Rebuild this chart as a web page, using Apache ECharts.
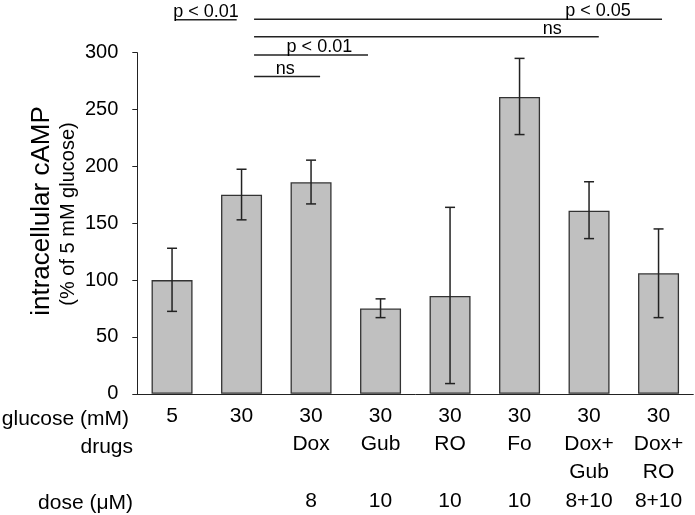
<!DOCTYPE html>
<html><head><meta charset="utf-8">
<script src="https://cdn.jsdelivr.net/npm/echarts@6/dist/echarts.min.js"></script>
<style>html,body{margin:0;padding:0;background:#fff}#c{width:695px;height:515px}</style>
</head><body><div id="c"></div>
<script>
// ---- data ----
const glucose = ['5','30','30','30','30','30','30','30'];
const drugs = ['','','Dox','Gub','RO','Fo','Dox+\nGub','Dox+\nRO'];
const dose = ['','','8','10','10','10','8+10','8+10'];
const means = [100,175,186,75,86,261,161,106];
const errLow = [72.5,153,167,67,9,228,136.5,67];
const errHigh = [128,197.5,205.5,83.5,164,295,186.5,145];
const yTicks = [0,50,100,150,200,250,300];
// significance brackets (positions in category units, heights in axis units)
const bracketFrom = [0.04,1.18,1.18,1.18,1.18];
const bracketTo = [0.93,7.05,6.14,2.82,2.13];
const bracketY = [329,329.5,314,298,279];
const bracketLabelX = [0.49,6.13,5.47,2.12,1.63];
const bracketLabels = ['p < 0.01','p < 0.05','ns','p < 0.01','ns'];
const rowHeaders = ['glucose (mM)','drugs','dose (\u03bcM)'];
const yTitle = 'intracellular cAMP';
const ySub = '(% of 5 mM glucose)';

const FONT = '"Liberation Sans", Arial, sans-serif';
const categories = glucose.map((g,i)=>{
  const d = drugs[i].split('\n');
  return [g, d[0]||'', d[1]||'', dose[i]].join('\n');
});

const chart = echarts.init(document.getElementById('c'));
chart.setOption({
  animation:false,
  backgroundColor:'#fff',
  grid:{left:137.3,right:1.7,top:52.7,bottom:118.3,containLabel:false},
  xAxis:{
    type:'category', data:categories,
    axisLine:{lineStyle:{color:'#222',width:1}},
    axisTick:{alignWithLabel:true,length:5,lineStyle:{color:'#222'}},
    axisLabel:{fontSize:21,fontFamily:FONT,color:'#000',lineHeight:28.3,margin:8,interval:0,verticalAlign:'top'}
  },
  yAxis:{
    type:'value', min:yTicks[0], max:yTicks[yTicks.length-1], interval:yTicks[1]-yTicks[0],
    splitLine:{show:false},
    axisLine:{show:true,lineStyle:{color:'#222',width:1}},
    axisTick:{show:true,length:5,lineStyle:{color:'#222'}},
    axisLabel:{fontSize:20,fontFamily:FONT,color:'#000',margin:19}
  },
  graphic:[
    {type:'text',x:42,y:211,rotation:Math.PI/2,style:{text:yTitle,font:'26px '+FONT,fill:'#000',align:'center',verticalAlign:'middle'}},
    {type:'text',x:68,y:214,rotation:Math.PI/2,style:{text:ySub,font:'20px '+FONT,fill:'#000',align:'center',verticalAlign:'middle'}},
    {type:'text',x:129,y:419,style:{text:rowHeaders[0],font:'21px '+FONT,fill:'#000',align:'right',verticalAlign:'middle'}},
    {type:'text',x:133,y:447,style:{text:rowHeaders[1],font:'21px '+FONT,fill:'#000',align:'right',verticalAlign:'middle'}},
    {type:'text',x:133,y:503,style:{text:rowHeaders[2],font:'21px '+FONT,fill:'#000',align:'right',verticalAlign:'middle'}}
  ],
  series:[
    {type:'bar',data:means,barWidth:41,itemStyle:{color:'#c0c0c0',borderColor:'#333',borderWidth:1.3},z:2},
    {type:'custom',data:means.map((m,i)=>[i,errLow[i],errHigh[i]]),encode:{x:0,y:[1,2]},z:5,clip:false,
      renderItem(params,api){
        const lo=api.coord([api.value(0),api.value(1)]);
        const hi=api.coord([api.value(0),api.value(2)]);
        const w=5, st={stroke:'#222',lineWidth:1.5};
        return {type:'group',children:[
          {type:'line',shape:{x1:hi[0],y1:hi[1],x2:lo[0],y2:lo[1]},style:st},
          {type:'line',shape:{x1:hi[0]-w,y1:hi[1],x2:hi[0]+w,y2:hi[1]},style:st},
          {type:'line',shape:{x1:lo[0]-w,y1:lo[1],x2:lo[0]+w,y2:lo[1]},style:st}
        ]};
      }},
    {type:'custom',data:bracketY.map((y,i)=>[0,y,i]),encode:{x:0,y:1},z:5,clip:false,
      renderItem(params,api){
        const i=api.value(2);
        const base=api.coord([0,api.value(1)]);
        const band=api.size([1,0])[0];
        const st={stroke:'#222',lineWidth:1.5};
        return {type:'group',children:[
          {type:'line',shape:{x1:base[0]+bracketFrom[i]*band,y1:base[1],x2:base[0]+bracketTo[i]*band,y2:base[1]},style:st},
          {type:'text',x:base[0]+bracketLabelX[i]*band,y:base[1]+1,style:{text:bracketLabels[i],font:'18px '+FONT,fill:'#000',align:'center',verticalAlign:'bottom'}}
        ]};
      }}
  ]
});
</script></body></html>
